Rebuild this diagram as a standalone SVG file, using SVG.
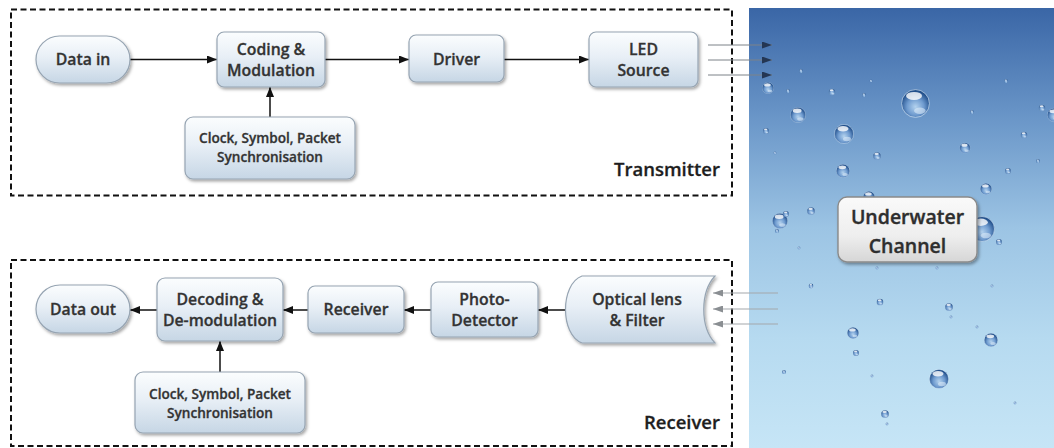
<svg xmlns="http://www.w3.org/2000/svg" xmlns:xlink="http://www.w3.org/1999/xlink" width="1054" height="448" viewBox="0 0 1054 448">
  <defs>
    <style>
      .node { fill: url(#nodeFill); stroke: #96a4b2; stroke-width: 1.2; filter: url(#shadow); }
      .chan { fill: url(#chanFill); stroke: #8a8a8a; stroke-width: 1.4; filter: url(#shadow); }
      .label { font-family: "Open Sans", "Noto Sans", sans-serif; font-weight: 600; fill: #333; stroke: #333; stroke-width: 0.3; text-anchor: middle; }
      .big { font-size: 15.8px; }
      .small { font-size: 13.6px; }
      .title { font-family: "Open Sans", "Noto Sans", sans-serif; font-weight: 600; font-size: 18.5px; fill: #1e1e1e; stroke: #1e1e1e; stroke-width: 0.3; text-anchor: end; }
      .chanText { font-family: "Open Sans", "Noto Sans", sans-serif; font-weight: 600; font-size: 19.5px; fill: #2e2e2e; stroke: #2e2e2e; stroke-width: 0.35; text-anchor: middle; }
      .frame { fill: none; stroke: #111; stroke-width: 2; stroke-dasharray: 6 3.5; }
      .flow { fill: none; stroke: #111; stroke-width: 1.5; marker-end: url(#arrow); }
      .txRay { fill: none; stroke: #7d8288; stroke-width: 1; marker-end: url(#rayOut); }
      .rxRay { fill: none; stroke: #a4a8ac; stroke-width: 1.2; marker-end: url(#rayIn); }
    </style>
    <linearGradient id="nodeFill" x1="0" y1="0" x2="0" y2="1">
      <stop offset="0" stop-color="#fbfdfe"/>
      <stop offset="0.45" stop-color="#e8eff6"/>
      <stop offset="1" stop-color="#c6d6e5"/>
    </linearGradient>
    <linearGradient id="chanFill" x1="0" y1="0" x2="0" y2="1">
      <stop offset="0" stop-color="#fafafa"/>
      <stop offset="0.6" stop-color="#eeeeee"/>
      <stop offset="1" stop-color="#d6d6d6"/>
    </linearGradient>
    <linearGradient id="water" x1="0" y1="0" x2="0" y2="1">
      <stop offset="0" stop-color="#3a66a6"/>
      <stop offset="0.25" stop-color="#6a96c8"/>
      <stop offset="0.5" stop-color="#9cc4e4"/>
      <stop offset="0.75" stop-color="#b6daf0"/>
      <stop offset="1" stop-color="#c6e5f6"/>
    </linearGradient>
    <radialGradient id="bubbleFill" cx="0.5" cy="0.62" r="0.55">
      <stop offset="0" stop-color="#b3d2ee"/>
      <stop offset="0.55" stop-color="#6f9bcf"/>
      <stop offset="1" stop-color="#22508c"/>
    </radialGradient>
    <symbol id="bubble" viewBox="-10 -10 20 20">
      <circle r="9.6" fill="url(#bubbleFill)" stroke="#dfeefa" stroke-width="0.6" stroke-opacity="0.7"/>
      <ellipse cx="-1" cy="-5.2" rx="5.5" ry="2.8" fill="#ffffff" fill-opacity="0.8"/>
      <ellipse cx="3" cy="5" rx="4" ry="2.2" fill="#e3f1fb" fill-opacity="0.55"/>
    </symbol>
    <filter id="shadow" x="-10%" y="-10%" width="125%" height="135%">
      <feDropShadow dx="1.5" dy="2" stdDeviation="1.4" flood-color="#000" flood-opacity="0.35"/>
    </filter>
    <marker id="arrow" viewBox="0 0 10 8" refX="10" refY="4" markerWidth="10" markerHeight="8" markerUnits="userSpaceOnUse" orient="auto">
      <path d="M0,0 L10,4 L0,8 Z" fill="#111"/>
    </marker>
    <marker id="rayOut" viewBox="0 0 10 7" refX="10" refY="3.5" markerWidth="10" markerHeight="7" markerUnits="userSpaceOnUse" orient="auto">
      <path d="M0,0 L10,3.5 L0,7 Z" fill="#243653"/>
    </marker>
    <marker id="rayIn" viewBox="0 0 10 7" refX="10" refY="3.5" markerWidth="10" markerHeight="7" markerUnits="userSpaceOnUse" orient="auto">
      <path d="M0,0 L10,3.5 L0,7 Z" fill="#8a8e92"/>
    </marker>
  </defs>

  <rect width="1054" height="448" fill="#ffffff"/>

  <!-- water column with bubbles -->
  <g id="water-panel">
    <rect x="749" y="8" width="305" height="440" fill="url(#water)"/>
    <g id="bubbles">
      <use href="#bubble" x="762" y="82" width="12" height="12"/>
      <use href="#bubble" x="799" y="69" width="4" height="4"/>
      <use href="#bubble" x="786" y="89" width="4" height="4"/>
      <use href="#bubble" x="828.5" y="88.5" width="7" height="7"/>
      <use href="#bubble" x="869.5" y="79.5" width="3" height="3"/>
      <use href="#bubble" x="862" y="93" width="4" height="4"/>
      <use href="#bubble" x="901" y="89" width="29" height="29"/>
      <use href="#bubble" x="790" y="107" width="16" height="16"/>
      <use href="#bubble" x="834" y="124" width="20" height="20"/>
      <use href="#bubble" x="763" y="128" width="6" height="6"/>
      <use href="#bubble" x="773.5" y="151.5" width="3" height="3"/>
      <use href="#bubble" x="873" y="152" width="8" height="8"/>
      <use href="#bubble" x="836" y="164" width="14" height="14"/>
      <use href="#bubble" x="970" y="110" width="4" height="4"/>
      <use href="#bubble" x="1004" y="79" width="4" height="4"/>
      <use href="#bubble" x="1038.5" y="104.5" width="7" height="7"/>
      <use href="#bubble" x="1047" y="107" width="14" height="16"/>
      <use href="#bubble" x="1020.5" y="131.5" width="7" height="7"/>
      <use href="#bubble" x="1036" y="159" width="4" height="4"/>
      <use href="#bubble" x="959.5" y="142.5" width="11" height="11"/>
      <use href="#bubble" x="1005" y="168" width="6" height="6"/>
      <use href="#bubble" x="980" y="183" width="12" height="12"/>
      <use href="#bubble" x="863" y="191" width="12" height="12"/>
      <use href="#bubble" x="807" y="207" width="8" height="8"/>
      <use href="#bubble" x="772" y="213" width="16" height="16"/>
      <use href="#bubble" x="783" y="211" width="6" height="6"/>
      <use href="#bubble" x="775" y="229" width="4" height="4"/>
      <use href="#bubble" x="969" y="216" width="26" height="26"/>
      <use href="#bubble" x="996" y="239" width="6" height="6"/>
      <use href="#bubble" x="797.5" y="246.5" width="3" height="3"/>
      <use href="#bubble" x="808.5" y="283.5" width="5" height="5"/>
      <use href="#bubble" x="875.5" y="266.5" width="3" height="3"/>
      <use href="#bubble" x="935.5" y="266.5" width="3" height="3"/>
      <use href="#bubble" x="990.5" y="284.5" width="3" height="3"/>
      <use href="#bubble" x="876.5" y="298.5" width="7" height="7"/>
      <use href="#bubble" x="945" y="303" width="8" height="8"/>
      <use href="#bubble" x="949.5" y="315.5" width="3" height="3"/>
      <use href="#bubble" x="847" y="327" width="12" height="12"/>
      <use href="#bubble" x="975.5" y="325.5" width="3" height="3"/>
      <use href="#bubble" x="984" y="333" width="14" height="14"/>
      <use href="#bubble" x="853" y="350" width="6" height="6"/>
      <use href="#bubble" x="782" y="370" width="4" height="4"/>
      <use href="#bubble" x="870.5" y="374.5" width="3" height="3"/>
      <use href="#bubble" x="929" y="369" width="20" height="20"/>
      <use href="#bubble" x="1013.5" y="401.5" width="3" height="3"/>
      <use href="#bubble" x="881" y="410" width="8" height="8"/>
      <use href="#bubble" x="885.5" y="422.5" width="3" height="3"/>
    </g>
  </g>

  <!-- dashed system frames -->
  <g id="frames">
    <rect class="frame" x="11" y="9.5" width="721" height="186"/>
    <rect class="frame" x="11" y="260" width="721" height="186"/>
    <text class="title" x="720" y="176">Transmitter</text>
    <text class="title" x="720" y="429">Receiver</text>
  </g>

  <!-- connectors -->
  <g id="connectors">
    <line class="flow" x1="130" y1="59.5" x2="217" y2="59.5"/>
    <line class="flow" x1="325" y1="59.5" x2="409" y2="59.5"/>
    <line class="flow" x1="504" y1="59.5" x2="589" y2="59.5"/>
    <line class="flow" x1="270" y1="117" x2="270" y2="87"/>
    <line class="flow" x1="565" y1="310" x2="538" y2="310"/>
    <line class="flow" x1="431" y1="310" x2="404" y2="310"/>
    <line class="flow" x1="308" y1="310" x2="283" y2="310"/>
    <line class="flow" x1="157" y1="310" x2="130" y2="310"/>
    <line class="flow" x1="220" y1="372" x2="220" y2="341"/>
    <line class="txRay" x1="708" y1="45" x2="772" y2="45"/>
    <line class="txRay" x1="708" y1="60" x2="772" y2="60"/>
    <line class="txRay" x1="708" y1="75" x2="772" y2="75"/>
    <line class="rxRay" x1="778" y1="293" x2="713" y2="293"/>
    <line class="rxRay" x1="778" y1="309" x2="713" y2="309"/>
    <line class="rxRay" x1="778" y1="324" x2="713" y2="324"/>
  </g>

  <!-- transmitter chain -->
  <g id="data-in">
    <rect class="node" x="36" y="36" width="94" height="47" rx="23.5"/>
    <text class="label big" x="83" y="65">Data in</text>
  </g>
  <g id="coding-modulation">
    <rect class="node" x="217" y="32" width="108" height="55" rx="7"/>
    <text class="label big" x="271" y="55">Coding &amp;</text>
    <text class="label big" x="271" y="76">Modulation</text>
  </g>
  <g id="tx-sync">
    <rect class="node" x="185" y="117" width="170" height="62" rx="8"/>
    <text class="label small" x="270" y="143">Clock, Symbol, Packet</text>
    <text class="label small" x="270" y="162">Synchronisation</text>
  </g>
  <g id="driver">
    <rect class="node" x="409" y="35" width="95" height="47" rx="7"/>
    <text class="label big" x="456.5" y="65">Driver</text>
  </g>
  <g id="led-source">
    <rect class="node" x="589" y="32" width="109" height="55" rx="7"/>
    <text class="label big" x="643.5" y="55">LED</text>
    <text class="label big" x="643.5" y="76">Source</text>
  </g>

  <!-- channel -->
  <g id="underwater-channel">
    <rect class="chan" x="838" y="197" width="139" height="65" rx="9"/>
    <text class="chanText" x="907.5" y="223.5">Underwater</text>
    <text class="chanText" x="907.5" y="252.5">Channel</text>
  </g>

  <!-- receiver chain -->
  <g id="optical-lens-filter">
    <path class="node" d="M582,276 H715 C700,292 700,327 715,343 H582 C560,335 560,284 582,276 Z"/>
    <text class="label big" x="637" y="305">Optical lens</text>
    <text class="label big" x="637" y="326">&amp; Filter</text>
  </g>
  <g id="photo-detector">
    <rect class="node" x="431" y="282" width="107" height="55" rx="7"/>
    <text class="label big" x="484.5" y="305">Photo-</text>
    <text class="label big" x="484.5" y="326">Detector</text>
  </g>
  <g id="receiver">
    <rect class="node" x="308" y="286" width="96" height="47" rx="7"/>
    <text class="label big" x="356" y="315">Receiver</text>
  </g>
  <g id="decoding-demodulation">
    <rect class="node" x="157" y="278" width="126" height="63" rx="8"/>
    <text class="label big" x="220" y="305">Decoding &amp;</text>
    <text class="label big" x="220" y="326">De-modulation</text>
  </g>
  <g id="rx-sync">
    <rect class="node" x="135" y="372" width="170" height="61" rx="8"/>
    <text class="label small" x="220" y="399">Clock, Symbol, Packet</text>
    <text class="label small" x="220" y="418">Synchronisation</text>
  </g>
  <g id="data-out">
    <rect class="node" x="36" y="285" width="94" height="48" rx="24"/>
    <text class="label big" x="83" y="315">Data out</text>
  </g>
</svg>
